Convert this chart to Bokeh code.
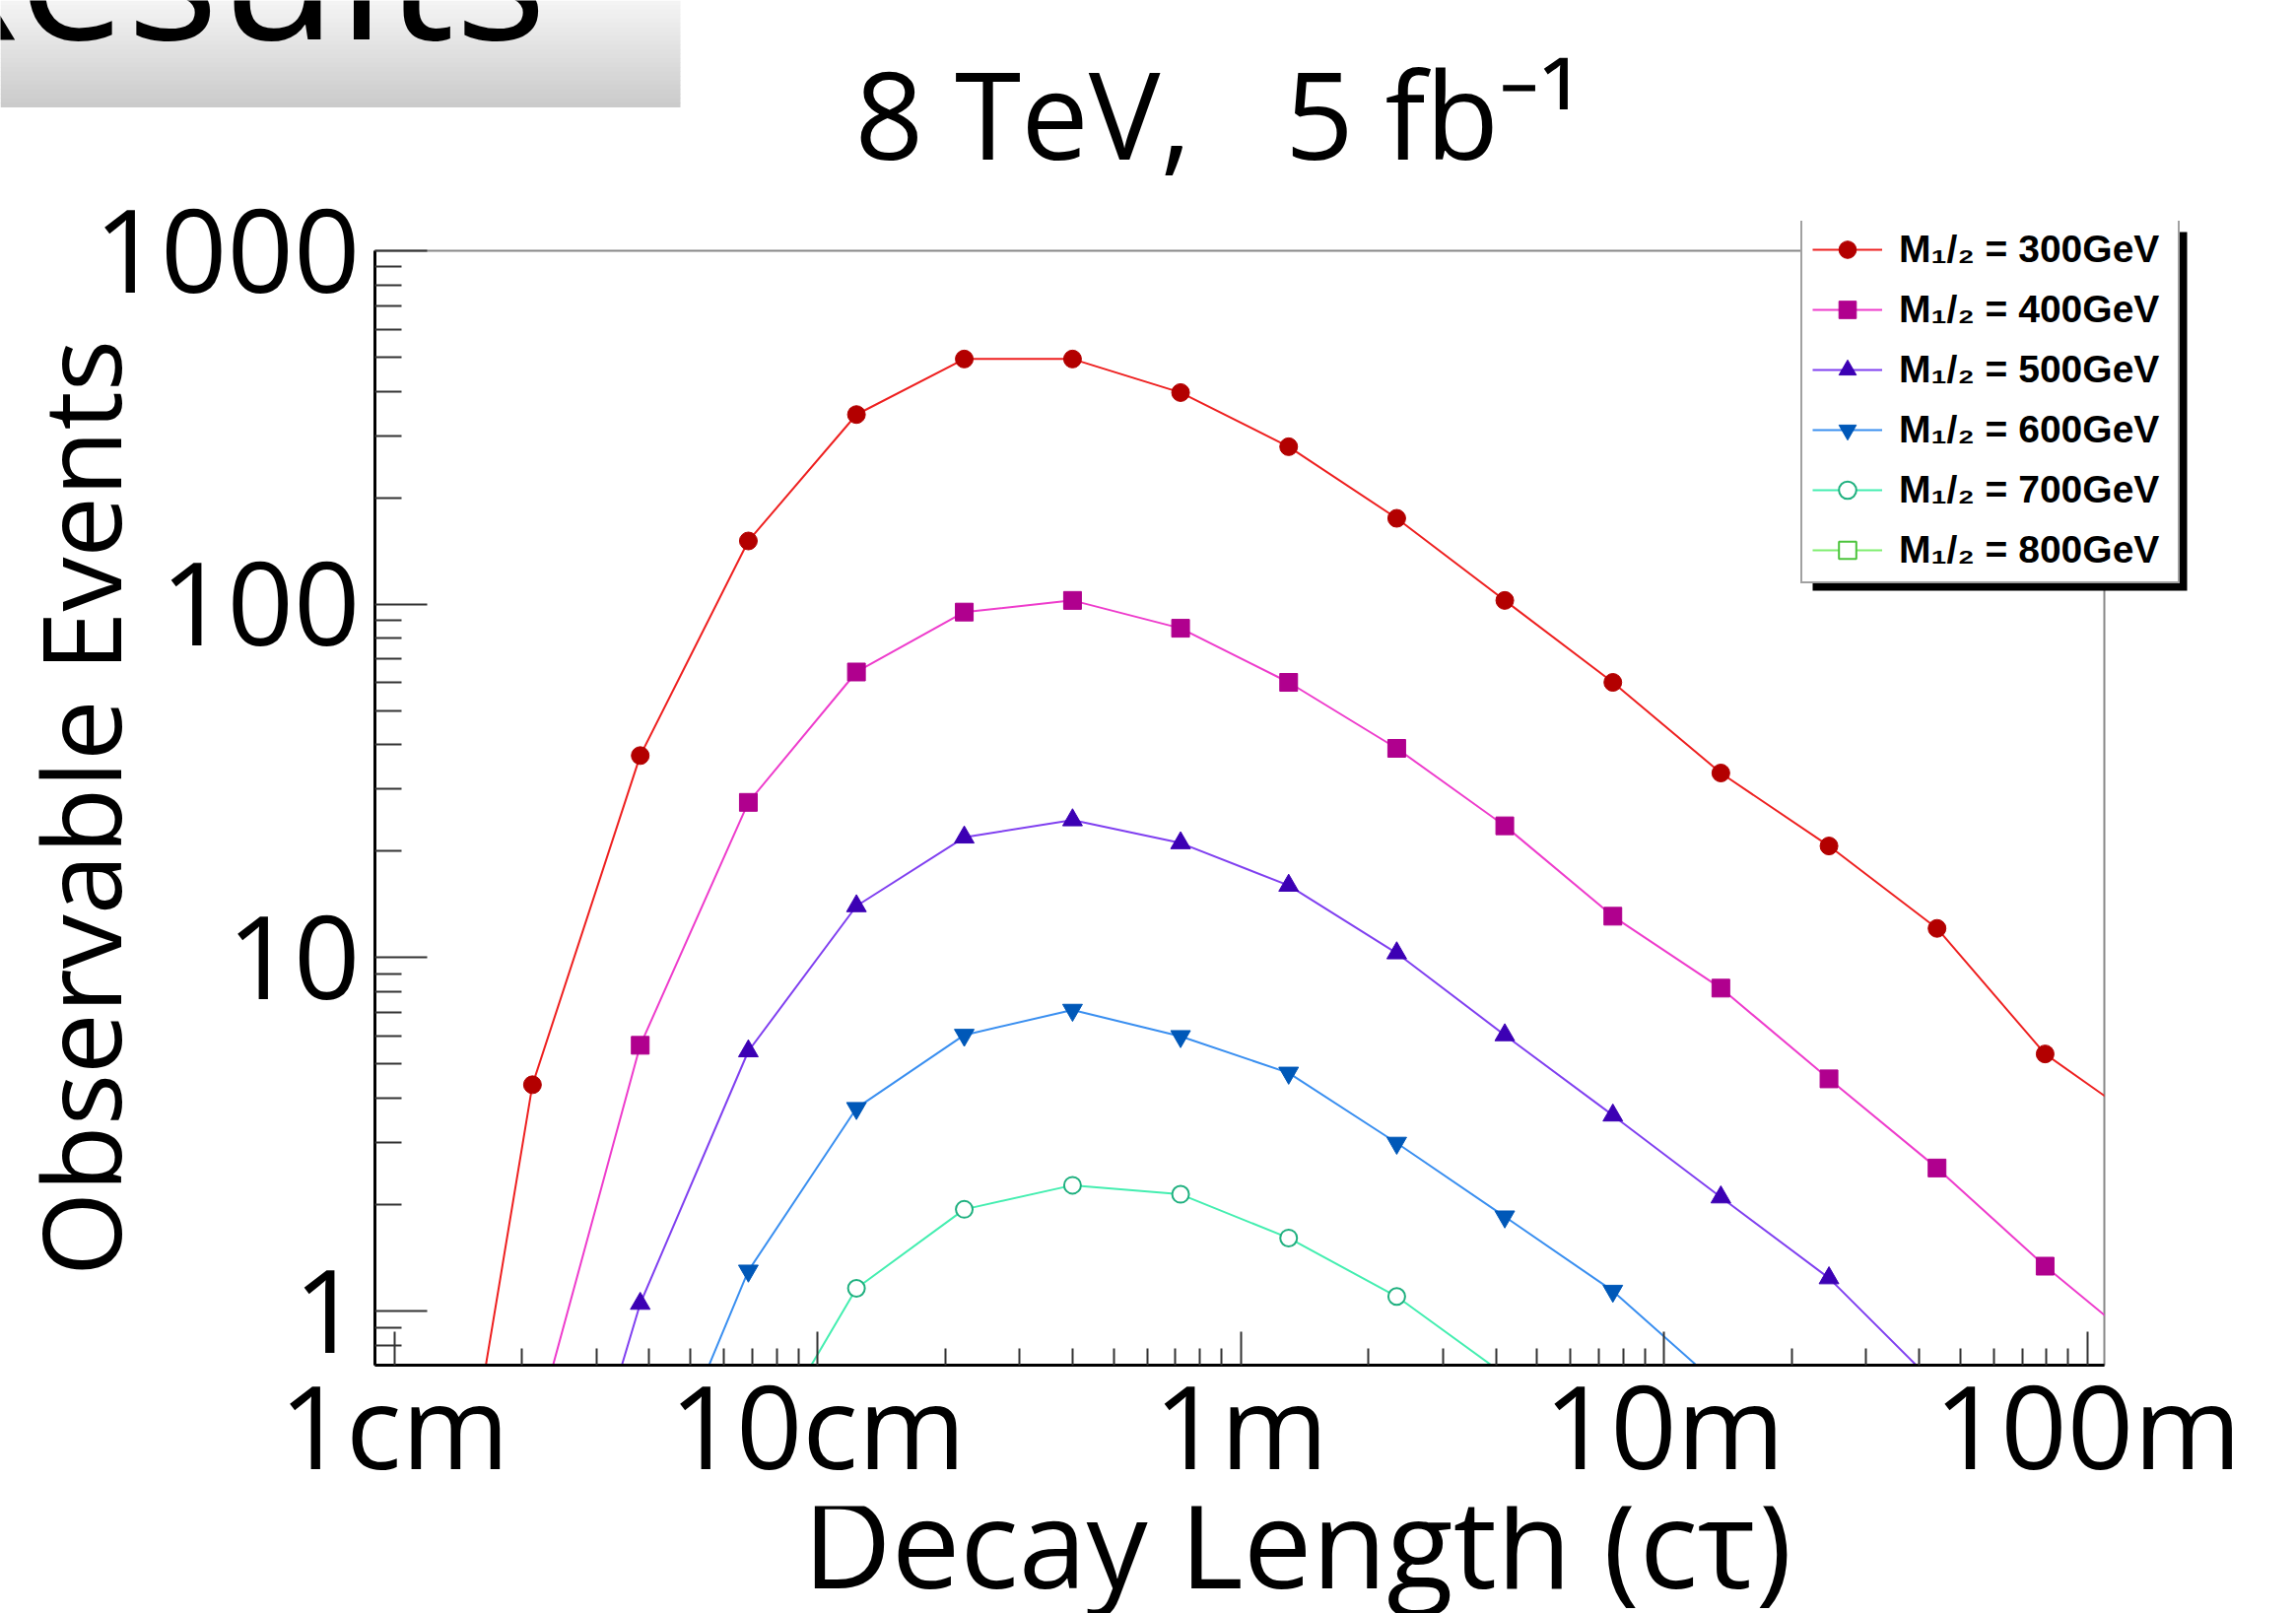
import math
from bokeh.plotting import figure
from bokeh.layouts import column
from bokeh.models import (FixedTicker, Label, BoxAnnotation, Legend, LegendItem, Range1d)
from bokeh.embed import file_html
from bokeh.resources import INLINE

nan = float("nan")

# ---- data (decay length c*tau in metres, observable events) ----
ct_m = [0.0118, 0.0212, 0.0381, 0.0686, 0.1235, 0.222, 0.400, 0.720, 1.296,
        2.333, 4.199, 7.558, 13.60, 24.49, 44.08, 79.35, 142.8]
ev_300 = [0.064, 4.37, 37.3, 151, 344, 494, 494, 397, 279, 175, 102.5, 60.1,
          33.3, 20.7, 12.1, 5.34, 3.25]
ev_400 = [nan, 0.43, 5.65, 27.5, 64.3, 95, 102.5, 85.5, 60.1, 39.1, 23.6, 13.1,
          8.2, 4.54, 2.54, 1.34, 0.75]
ev_500 = [nan, 0.10, 1.05, 5.44, 14.0, 21.9, 24.5, 21.1, 16.0, 10.3, 6.04,
          3.58, 2.10, 1.24, 0.614, nan, nan]
ev_600 = [nan, nan, 0.24, 1.30, 3.75, 6.04, 7.11, 5.99, 4.72, 2.99, 1.85, 1.14,
          0.61, nan, nan, nan, nan]
ev_700 = [nan, nan, nan, 0.35, 1.16, 1.94, 2.27, 2.14, 1.61, 1.10, 0.66, nan,
          nan, nan, nan, nan, nan]
ev_800 = [nan, nan, nan, nan, 0.30, 0.55, 0.64, 0.62, 0.48, 0.33, nan, nan,
          nan, nan, nan, nan, nan]

series_labels = ["M\u2081/\u2082 = 300GeV", "M\u2081/\u2082 = 400GeV",
                 "M\u2081/\u2082 = 500GeV", "M\u2081/\u2082 = 600GeV",
                 "M\u2081/\u2082 = 700GeV", "M\u2081/\u2082 = 800GeV"]
series_values = [ev_300, ev_400, ev_500, ev_600, ev_700, ev_800]

x_ticks = [0.01, 0.1, 1, 10, 100]
x_tick_labels = ["1cm", "10cm", "1m", "10m", "100m"]
y_ticks = [1, 10, 100, 1000]
y_tick_labels = ["1", "10", "100", "1000"]

title_text = "8 TeV,\u00a0\u00a0 5 fb\u207b\u00b9"
x_title = "Decay Length (c\u03c4)"
y_title = "Observable Events"
banner_text = "Results"

# ---- styles ----
line_colors = ["#ee2020", "#ee3ccc", "#8040f0", "#3a8ff0", "#44eeb0", "#80ee70"]
mark_colors = ["#b30000", "#b0008e", "#3c00b4", "#0058b8", "#1fb07f", "#4cc43c"]
markers = ["circle", "square", "triangle", "inverted_triangle", "circle", "square"]
hollow = [False, False, False, False, True, True]
msizes = [18, 18, 20, 20, 17, 17]

FONT = "Open Sans"
FS = "118px"
W = 2330
H_TOP, H_MAIN = 196, 1332
H_BOT = 1637 - H_TOP - H_MAIN


def blank_fig(w, h, x_range, y_range):
    f = figure(width=w, height=h, x_range=x_range, y_range=y_range,
               output_backend="svg", toolbar_location=None,
               x_axis_location=None, y_axis_location=None, min_border=0)
    f.frame_align = False
    f.grid.visible = False
    f.outline_line_color = None
    f.background_fill_color = "white"
    f.border_fill_color = "white"
    return f


def draw_series(fig):
    out = []
    for vals, lc, mc, mk, ho, ms in zip(series_values, line_colors, mark_colors,
                                        markers, hollow, msizes):
        xs = [x for x, v in zip(ct_m, vals) if not math.isnan(v)]
        ys = [v for v in vals if not math.isnan(v)]
        lr = fig.line(xs, ys, line_color=lc, line_width=2)
        sr = fig.scatter(xs, ys, marker=mk, size=ms,
                         fill_color=("white" if ho else mc), line_color=mc,
                         line_width=(2 if ho else 1))
        out.append((lr, sr))
    return out


# ---- top strip: "Results" banner and title ----
top = blank_fig(W, H_TOP, Range1d(0, W), Range1d(H_TOP, 0))
nb = 24
for i in range(nb):
    g = int(round(0xf4 - (0xf4 - 0xcb) * i / (nb - 1)))
    top.add_layout(BoxAnnotation(left=0, right=690, top=i * 108 / nb, bottom=(i + 1) * 108 / nb + 0.6,
                                 fill_color="#%02x%02x%02x" % (g, g, g), fill_alpha=1.0,
                                 line_color=None))
top.add_layout(Label(x=-103, y=-37, text=banner_text, text_font=FONT, text_font_size="196px",
                     text_color="black", text_align="left", text_baseline="alphabetic"))
top.add_layout(Label(x=867, y=114, text=title_text, text_font=FONT, text_font_size="122px",
                     text_color="black", text_align="left", text_baseline="alphabetic"))

# ---- main plot ----
p = figure(width=W, height=H_MAIN, x_axis_type="log", y_axis_type="log",
           x_range=(0.009, 109.5), y_range=(0.703, 1000),
           output_backend="svg", toolbar_location=None,
           min_border_left=380, min_border_right=195,
           min_border_top=58, min_border_bottom=142)
p.frame_align = False
p.grid.visible = False
p.background_fill_color = "white"
p.border_fill_color = "white"
p.outline_line_color = "#888888"
p.outline_line_width = 2

xax = p.xaxis[0]
yax = p.yaxis[0]
xax.ticker = FixedTicker(ticks=x_ticks,
                         minor_ticks=[m * 10.0 ** k for k in range(-3, 3) for m in range(2, 10)])
yax.ticker = FixedTicker(ticks=y_ticks,
                         minor_ticks=[m * 10.0 ** k for k in range(-1, 3) for m in range(2, 10)])
xax.major_label_overrides = {t: l for t, l in zip(x_ticks, x_tick_labels)}
yax.major_label_overrides = {t: l for t, l in zip(y_ticks, y_tick_labels)}

for ax, maj, mnr in ((xax, 34, 17), (yax, 53, 27)):
    ax.axis_line_color = "black"
    ax.axis_line_width = 3
    ax.major_tick_in = maj
    ax.major_tick_out = 0
    ax.minor_tick_in = mnr
    ax.minor_tick_out = 0
    ax.major_tick_line_color = "#333333"
    ax.minor_tick_line_color = "#333333"
    ax.major_tick_line_width = 2
    ax.minor_tick_line_width = 2
    ax.major_label_text_font = FONT
    ax.major_label_text_font_size = FS
    ax.major_label_text_color = "black"
xax.major_label_standoff = -21
yax.major_label_standoff = 15
yax.axis_label = y_title
yax.axis_label_standoff = -62
yax.axis_label_text_font = FONT
yax.axis_label_text_font_size = "110px"
yax.axis_label_text_font_style = "normal"
yax.axis_label_text_color = "black"

draw_series(p)

# ---- bottom strip: x-axis title ----
bot = blank_fig(W, H_BOT, Range1d(0, W), Range1d(1637, 1637 - H_BOT))
bot.add_layout(Label(x=1316, y=1563, text=x_title, text_font=FONT, text_font_size="124px",
                     text_color="black", text_align="center", text_baseline="alphabetic"))

# ---- legend panel (overlaid at its place over the frame corner) ----
LW, LH = 393, 376
leg = blank_fig(LW, LH, Range1d(1000, 1000 + LW), Range1d(LH, 0))
leg.background_fill_color = None
leg.border_fill_color = None
leg_renderers = draw_series(leg)   # same series; lie outside this panel's view
leg.add_layout(BoxAnnotation(left=1012, right=1392, top=11, bottom=375,
                             fill_color="black", fill_alpha=1.0, line_color=None))
legend = Legend(items=[LegendItem(label=lab, renderers=list(rr))
                       for lab, rr in zip(series_labels, leg_renderers)],
                location=(0, 8), orientation="vertical",
                padding=10, spacing=17, margin=0,
                glyph_width=71, glyph_height=44, label_height=44, label_width=273,
                label_standoff=17,
                label_text_font="Liberation Sans", label_text_font_style="bold",
                label_text_font_size="39px", label_text_color="black",
                label_text_baseline="middle",
                border_line_color="#444444", border_line_width=2,
                background_fill_color="white", background_fill_alpha=1.0)
leg.add_layout(legend)
leg.styles = {"position": "absolute", "left": "1827px", "top": "224px", "z-index": "5"}

layout = column(top, p, bot, leg, spacing=0)
open("out.html", "w").write(file_html(layout, INLINE))
